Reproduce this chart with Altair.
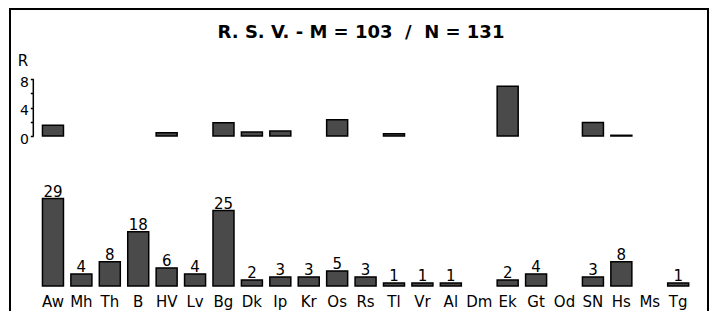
import altair as alt
import pandas as pd

# ---- data ----
cats = ["Aw", "Mh", "Th", "B", "HV", "Lv", "Bg", "Dk", "Ip", "Kr", "Os", "Rs",
        "Tl", "Vr", "Al", "Dm", "Ek", "Gt", "Od", "SN", "Hs", "Ms", "Tg"]
counts = [29, 4, 8, 18, 6, 4, 25, 2, 3, 3, 5, 3, 1, 1, 1, 0, 2, 4, 0, 3, 8, 0, 1]
r_vals = [1.5, None, None, None, 0.45, None, 1.85, 0.55, 0.7, None, 2.3, None,
          0.3, None, None, None, 7.0, None, None, 1.9, 0.1, None, None]
r_ticks = [0, 2, 4, 6, 8]
NB = "\u00a0"
title_text = "R. S. V. - M = 103 " + NB + "/ " + NB + "N = 131"

df = pd.DataFrame({"cat": cats, "n": counts, "R": r_vals})
df_n = df[df["n"] > 0]
df_r = df[df["R"].notna()]
df_axis = pd.DataFrame({"R": [r_ticks[0]], "R2": [r_ticks[-1]]})
df_title = pd.DataFrame({"t": [title_text]})

# ---- layout / style ----
W, H = 698, 310
FONT = "DejaVu Sans"
FILL = "#4a4a4a"

xscale = alt.Scale(domain=cats, paddingInner=0.261, paddingOuter=0.911, align=0.627)
xaxis = alt.Axis(orient="bottom", domain=False, ticks=False, tickSize=0, grid=False,
                 labelAngle=0, labelFont=FONT, labelFontSize=15, labelColor="black",
                 labelBaseline="alphabetic", labelPadding=0, offset=-13, title=None,
                 labelOverlap=False)

n_px, n_base = 3.02, 277
n_scale = alt.Scale(domain=[(n_base - H) / n_px, n_base / n_px], nice=False, zero=False)
r_px, r_base = 7.1, 127
r_scale = alt.Scale(domain=[(r_base - H) / r_px, r_base / r_px], nice=False, zero=False)

AX_X = 23.3
raxis = alt.Axis(orient="left", offset=-AX_X, values=r_ticks,
                 labelExpr="datum.value % 4 == 0 ? datum.label : ''",
                 domain=False, grid=False, tickSize=3, tickColor="black", tickWidth=1.5,
                 labelFont=FONT, labelFontSize=14, labelColor="black", labelPadding=2,
                 labelOffset=3, labelOverlap=False,
                 title="R", titleAngle=0, titleX=-10.8, titleY=56, titleAlign="center",
                 titleBaseline="alphabetic", titleFont=FONT, titleFontSize=15,
                 titleFontWeight="normal", titleColor="black")

X = alt.X("cat:N", scale=xscale, sort=cats, axis=xaxis)

bars_r = alt.Chart(df_r).mark_bar(fill=FILL, stroke="black", strokeWidth=1.5).encode(
    x=X, y=alt.Y("R:Q", scale=r_scale, axis=raxis), y2=alt.datum(0))
rule_r = alt.Chart(df_axis).mark_rule(color="black", strokeWidth=1.5).encode(
    x=alt.value(AX_X), y=alt.Y("R:Q", scale=r_scale, axis=raxis), y2="R2:Q")
top = alt.layer(bars_r, rule_r)

bars_n = alt.Chart(df_n).mark_bar(fill=FILL, stroke="black", strokeWidth=1.5).encode(
    x=X, y=alt.Y("n:Q", scale=n_scale, axis=None), y2=alt.datum(0))
text_n = alt.Chart(df_n).mark_text(font=FONT, fontSize=15, baseline="alphabetic",
                                   dy=-1.5, color="black").encode(
    x=X, y=alt.Y("n:Q", scale=n_scale, axis=None), text="n:Q")
bottom = alt.layer(bars_n, text_n)

title_l = alt.Chart(df_title).mark_text(font=FONT, fontSize=18, fontWeight="bold",
                                        align="center", baseline="alphabetic",
                                        color="black").encode(
    x=alt.value(351), y=alt.value(28.7), text="t:N")

chart = alt.layer(top, bottom, title_l).resolve_scale(y="independent").properties(
    width=W, height=H,
    padding={"left": 2, "top": 1, "right": 1, "bottom": 0},
    autosize=alt.AutoSizeParams(type="none"),
).configure_view(stroke="black", strokeWidth=2)

chart.save("out.html", embed_options={"renderer": "svg", "actions": False})
